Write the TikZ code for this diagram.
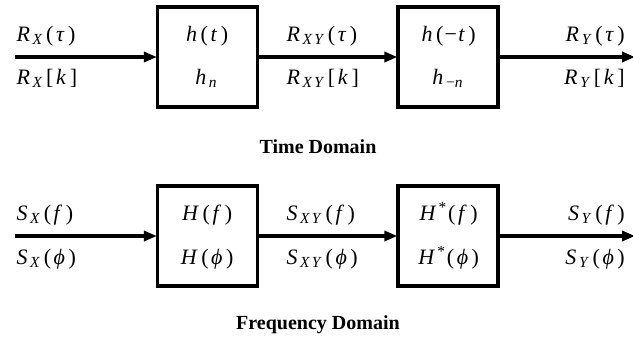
\documentclass[tikz,border=0pt]{standalone}
\usepackage{fontspec}
\setmainfont{Liberation Serif}
\usetikzlibrary{arrows.meta}
\newcommand{\sbs}[1]{\textsubscript{\kern0.03em#1}}
\newcommand{\sv}[1]{\textit{#1}\kern0.12em}
\newcommand{\iv}[1]{\kern0.06em\textit{#1}\kern0.1em}
\newcommand{\lp}{\kern0.06em(\kern0.06em}
\newcommand{\rp}{\kern0.06em)}
\newcommand{\lb}{\kern0.06em[\kern0.06em}
\newcommand{\rb}{\kern0.06em]}
\tikzset{
  blk/.style={draw, line width=3.2pt, minimum width=100pt, minimum height=100pt, inner sep=0pt},
  conn/.style={line width=3.2pt, -{Triangle[length=13pt,width=10pt]}, shorten >=-1pt},
  lbl/.style={font=\fontsize{22}{26}\selectfont, inner sep=0pt, anchor=base},
  lbll/.style={lbl, anchor=base west},
  lblr/.style={lbl, anchor=base east},
  ttl/.style={font=\fontsize{20}{24}\selectfont\bfseries, inner sep=0pt}
}
\begin{document}
\begin{tikzpicture}[x=1pt,y=-1pt]
\useasboundingbox (0,0) rectangle (633,341);
% Time domain
\node[blk] (h1) at (207.5,57) {};
\node[blk] (h2) at (448,57) {};
\coordinate (in1) at (15,57);
\coordinate (out1) at (634,57);
\draw[conn] (in1) -- (h1.west);
\draw[conn] (h1.east) -- (h2.west);
\draw[conn] (h2.east) -- (out1);
\node[lbll] (a1) at (15,41) {\iv{R}\sbs{\sv{X}}\lp\iv{τ}\rp};
\node[lbll] (a2) at (15,84) {\iv{R}\sbs{\sv{X}}\lb\iv{k}\rb};
\node[lbl] (b1) at (206.5,41) {\iv{h}\lp\iv{t}\rp};
\node[lbl] (b2) at (206.5,84) {\iv{h}\sbs{\sv{n}}};
\node[lbll] (c1) at (285,41) {\iv{R}\sbs{\sv{X}\sv{Y}}\lp\iv{τ}\rp};
\node[lbll] (c2) at (285,84) {\iv{R}\sbs{\sv{X}\sv{Y}}\lb\iv{k}\rb};
\node[lbl] (d1) at (448,41) {\iv{h}\lp−\iv{t}\rp};
\node[lbl] (d2) at (448,84) {\iv{h}\sbs{−\sv{n}}};
\node[lblr] (e1) at (625,41) {\iv{R}\sbs{\sv{Y}}\lp\iv{τ}\rp};
\node[lblr] (e2) at (625,84) {\iv{R}\sbs{\sv{Y}}\lb\iv{k}\rb};
\node[ttl] (t1) at (318,147) {Time Domain};
% Frequency domain
\node[blk] (g1) at (207.5,236) {};
\node[blk] (g2) at (448,236) {};
\coordinate (in2) at (15,236);
\coordinate (out2) at (634,236);
\draw[conn] (in2) -- (g1.west);
\draw[conn] (g1.east) -- (g2.west);
\draw[conn] (g2.east) -- (out2);
\node[lbll] (p1) at (15,220) {\iv{S}\sbs{\sv{X}}\lp\iv{f}\rp};
\node[lbll] (p2) at (15,264) {\iv{S}\sbs{\sv{X}}\lp\iv{ϕ}\rp};
\node[lbl] (q1) at (206.5,220) {\iv{H}\lp\iv{f}\rp};
\node[lbl] (q2) at (206.5,264) {\iv{H}\lp\iv{ϕ}\rp};
\node[lbll] (r1) at (285,220) {\iv{S}\sbs{\sv{X}\sv{Y}}\lp\iv{f}\rp};
\node[lbll] (r2) at (285,264) {\iv{S}\sbs{\sv{X}\sv{Y}}\lp\iv{ϕ}\rp};
\node[lbl] (s1) at (448,220) {\iv{H}\textsuperscript{*}\lp\iv{f}\rp};
\node[lbl] (s2) at (448,264) {\iv{H}\textsuperscript{*}\lp\iv{ϕ}\rp};
\node[lblr] (u1) at (625,220) {\iv{S}\sbs{\sv{Y}}\lp\iv{f}\rp};
\node[lblr] (u2) at (625,264) {\iv{S}\sbs{\sv{Y}}\lp\iv{ϕ}\rp};
\node[ttl] (t2) at (318,325) {Frequency Domain};
\end{tikzpicture}
\end{document}
